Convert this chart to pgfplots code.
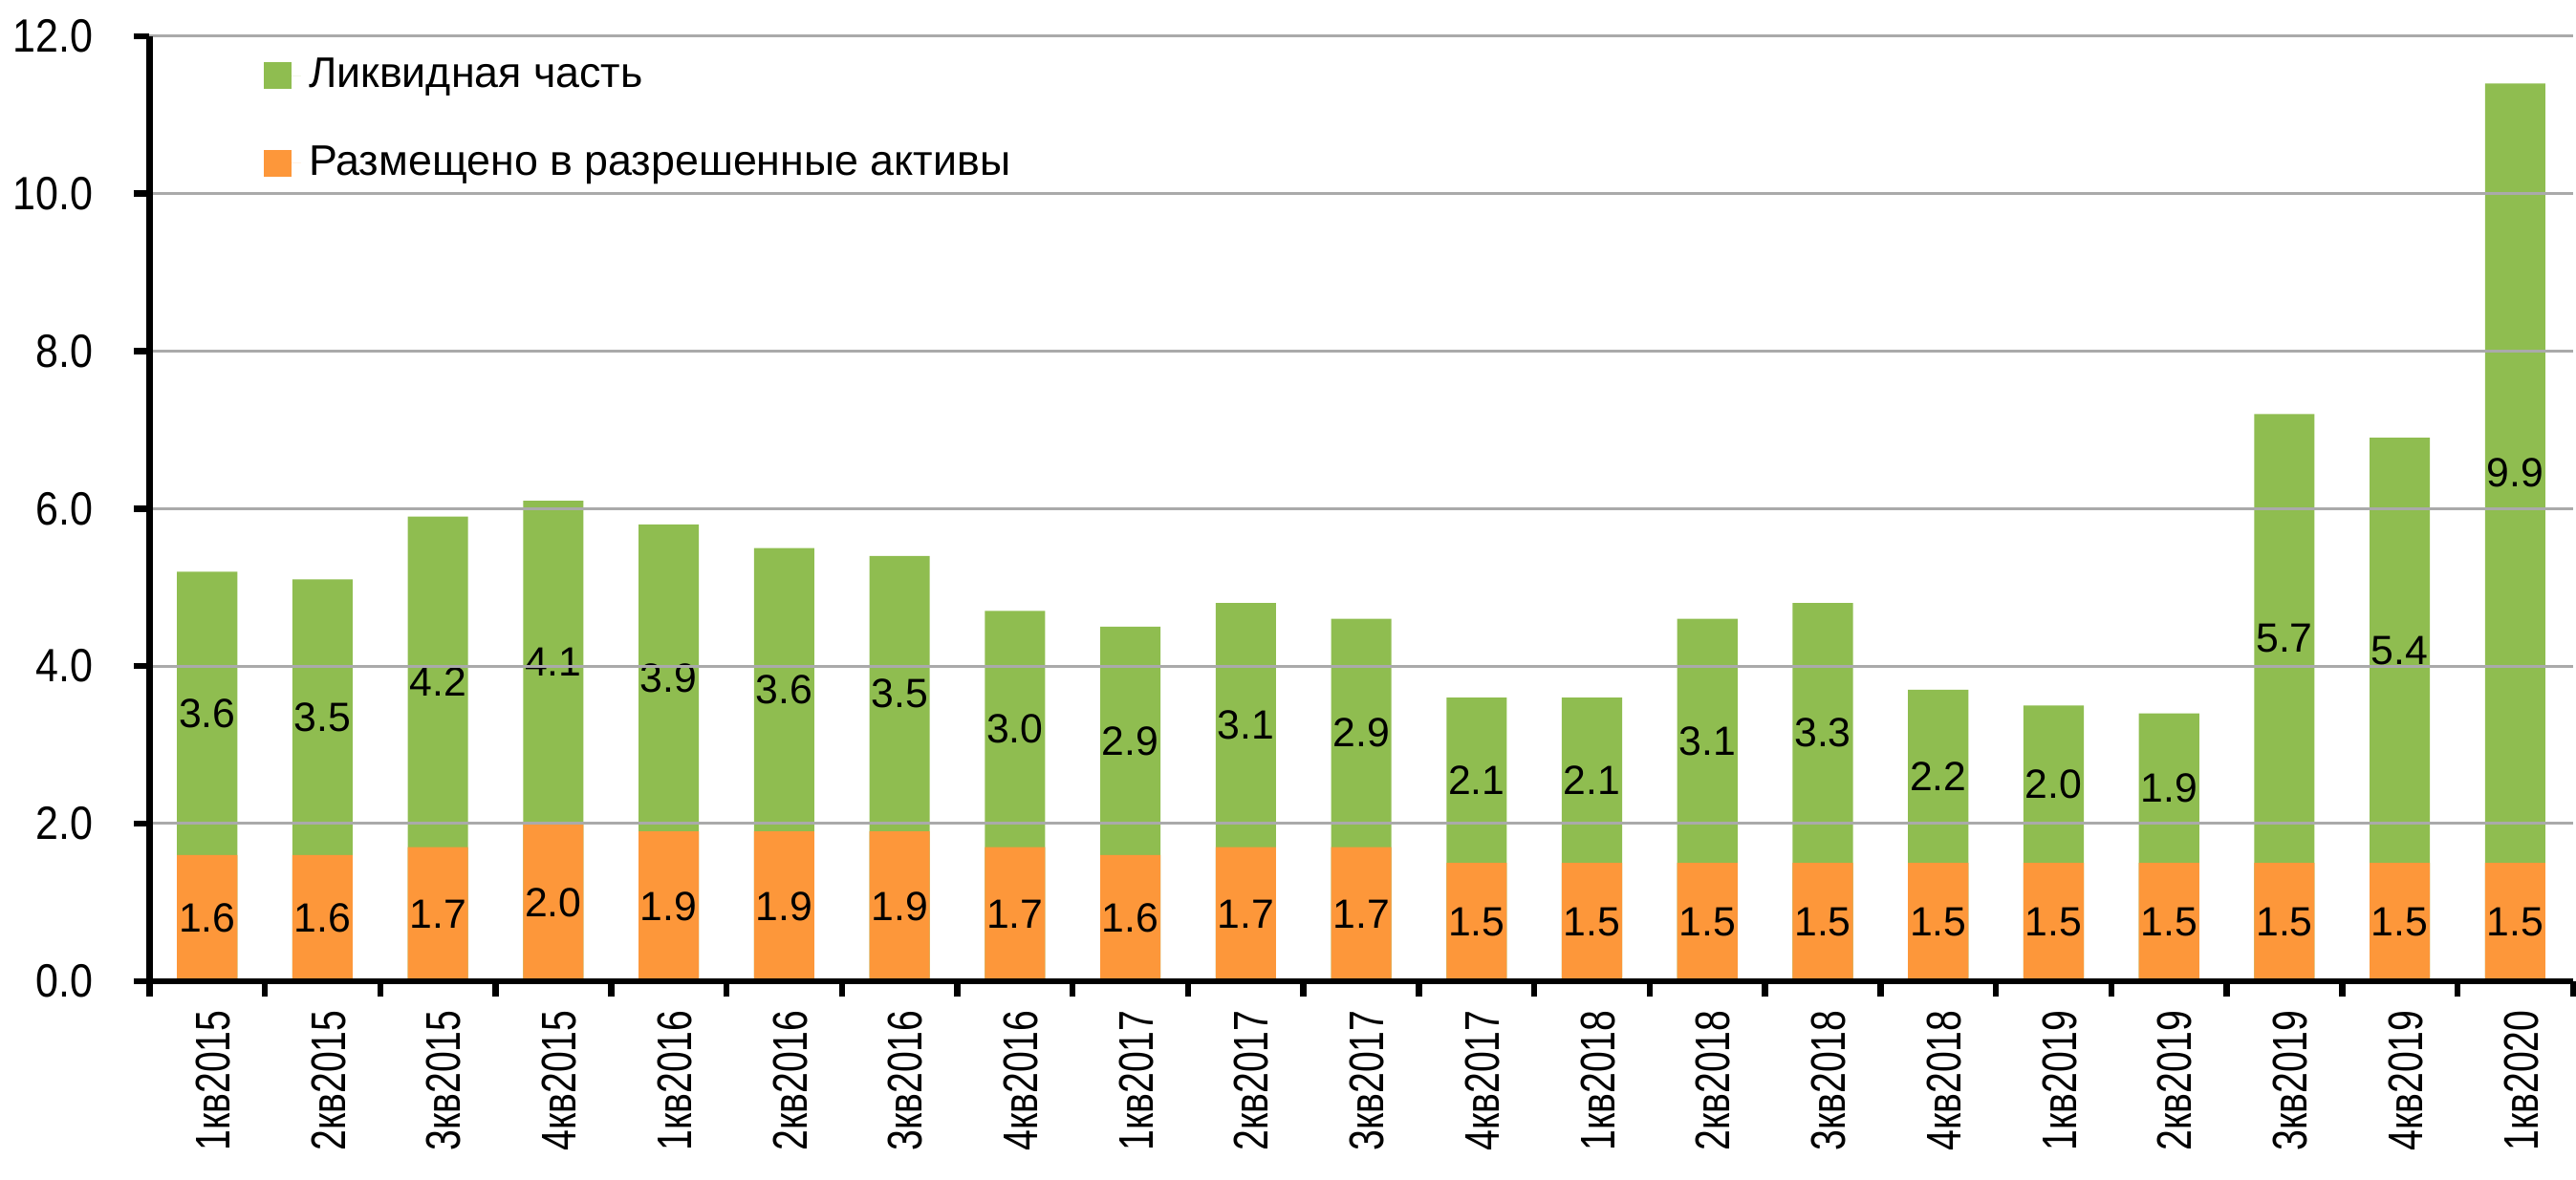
\documentclass[border=0pt]{standalone}
\usepackage{fontspec}
\setmainfont{Liberation Sans}
\newfontfamily\narrowx{Liberation Sans}[FakeStretch=0.77]
\newfontfamily\narrowy{Liberation Sans}[FakeStretch=0.88]
\usepackage{pgfplots}
\pgfplotsset{compat=1.18}
\usepackage{pgfplotstable}
\definecolor{barG}{RGB}{143,189,80}
\definecolor{barO}{RGB}{253,151,58}
\definecolor{gridc}{RGB}{170,170,170}
\pgfplotstableread{
x o g
0 1.6 3.6
1 1.6 3.5
2 1.7 4.2
3 2.0 4.1
4 1.9 3.9
5 1.9 3.6
6 1.9 3.5
7 1.7 3.0
8 1.6 2.9
9 1.7 3.1
10 1.7 2.9
11 1.5 2.1
12 1.5 2.1
13 1.5 3.1
14 1.5 3.3
15 1.5 2.2
16 1.5 2.0
17 1.5 1.9
18 1.5 5.7
19 1.5 5.4
20 1.5 9.9
}\data
\begin{document}
\begin{tikzpicture}
\begin{axis}[
  scale only axis, width=623pt, height=243pt,
  xmin=-0.5, xmax=20.5, ymin=0, ymax=12,
  set layers, axis on top,
  axis x line*=bottom, axis y line*=left,
  axis line style={line width=1.6pt, -},
  ytick={0,2,...,12},
  ymajorgrids, grid style={gridc, line width=0.75pt, /pgfplots/on layer=axis background},
  xtick={0,...,20},
  xticklabels={1кв2015,2кв2015,3кв2015,4кв2015,1кв2016,2кв2016,3кв2016,4кв2016,1кв2017,2кв2017,3кв2017,4кв2017,1кв2018,2кв2018,3кв2018,4кв2018,1кв2019,2кв2019,3кв2019,4кв2019,1кв2020},
  minor xtick={-0.5,0.5,...,20.5},
  major x tick style={draw=none},
  minor x tick style={black, line width=1.6pt},
  ytick style={black, line width=1.6pt},
  minor tick length=4pt,
  major tick length=4pt,
  tick align=outside,
  xticklabel style={rotate=90, anchor=east, font=\narrowx\fontsize{12.5}{14}\selectfont, yshift=-1.5pt},
  yticklabel style={font=\narrowy\fontsize{12}{14}\selectfont, xshift=-7pt, /pgf/number format/.cd, fixed, fixed zerofill, precision=1},
  /pgf/number format/assume math mode=true,
  legend style={at={(0.047,0.986)}, anchor=north west, draw=none, fill=none,
    font=\fontsize{11}{13}\selectfont, row sep=9.5pt, inner sep=0pt},
  legend cell align=left,
  legend image code/.code={\draw[#1, draw=none] (0pt,-3.5pt) rectangle (7pt,3.5pt); \path (0pt,0pt) -- (9.5pt,0pt);},
  every node near coord/.append style={anchor=center, font=\fontsize{10.5}{12}\selectfont, text=black},
]
\addplot[ybar, bar shift=0pt, bar width=15.5pt, fill=barG, draw=none]
  table[x=x, y expr=\thisrow{o}+\thisrow{g}] {\data};
\addlegendentry{Ликвидная часть}
\addplot[ybar, bar shift=0pt, bar width=15.5pt, fill=barO, draw=none]
  table[x=x, y=o] {\data};
\addlegendentry{Размещено в разрешенные активы}
\addplot[draw=none, mark=none, forget plot, point meta=explicit,
  nodes near coords={\pgfmathprintnumber[fixed,fixed zerofill,precision=1]{\pgfplotspointmeta}}]
  table[x=x, y expr=\thisrow{o}/2, meta=o] {\data};
\addplot[draw=none, mark=none, forget plot, point meta=explicit,
  nodes near coords={\pgfmathprintnumber[fixed,fixed zerofill,precision=1]{\pgfplotspointmeta}}]
  table[x=x, y expr=\thisrow{o}+\thisrow{g}/2, meta=g] {\data};
\end{axis}
\path (current axis.south west) ++(0pt,-51pt);
\path (current axis.north west) ++(0pt,9.3pt);
\end{tikzpicture}
\end{document}
